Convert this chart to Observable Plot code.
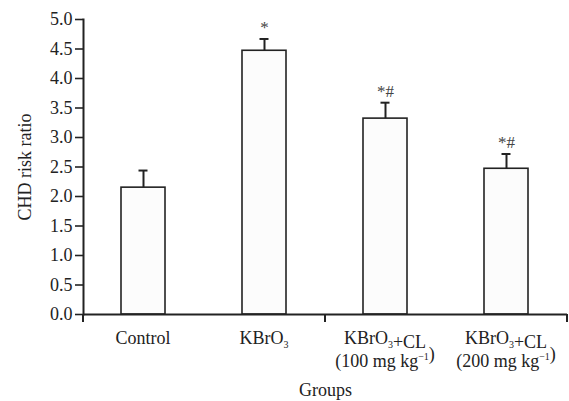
<!DOCTYPE html>
<html>
<head>
<meta charset="utf-8">
<script src="https://cdn.jsdelivr.net/npm/d3@7"></script>
<script src="https://cdn.jsdelivr.net/npm/@observablehq/plot@0.6"></script>
<style>
  html, body { margin: 0; padding: 0; background: #fff; }
</style>
</head>
<body>
<div id="chart"></div>
<script>
const groups = ["Control", "KBrO3", "KBrO3+CL 100", "KBrO3+CL 200"];
const means = [2.15, 4.47, 3.32, 2.47];
const errors = [0.29, 0.20, 0.27, 0.25];
const signif = ["", "*", "*#", "*#"];
const tickLabels = [
  ["Control"],
  ["KBrO_3"],
  ["KBrO_3+CL", "(100 mg kg^\u22121)"],
  ["KBrO_3+CL", "(200 mg kg^\u22121)"]
];
const yTicks = [0, 0.5, 1, 1.5, 2, 2.5, 3, 3.5, 4, 4.5, 5];
const yLabel = "CHD risk ratio";
const xLabel = "Groups";

const data = groups.map((g, i) => ({group: g, mean: means[i], err: errors[i], top: means[i] + errors[i], sig: signif[i]}));
const ink = "#222";
const font = "Liberation Serif, Times New Roman, serif";
const fs = 18;

const plot = Plot.plot({
  width: 569,
  height: 401,
  marginLeft: 83,
  marginRight: 2,
  marginTop: 19,
  marginBottom: 87,
  style: {fontFamily: font, fontSize: fs + "px", color: ink, background: "white", overflow: "visible"},
  x: {domain: groups, paddingInner: 0.636, paddingOuter: 0.318, axis: null},
  y: {domain: [0, 5], axis: null},
  marks: [
    Plot.axisY({ticks: yTicks, tickFormat: d3.format(".1f"), tickSize: 8, tickPadding: 3, strokeWidth: 1.6, label: null, fontSize: fs}),
    Plot.barY(data, {x: "group", y: "mean", fill: "#fcfcfc", stroke: ink, strokeWidth: 1.6}),
    Plot.ruleX(data, {x: "group", y1: "mean", y2: "top", stroke: ink, strokeWidth: 2}),
    Plot.tickY(data, {x: "group", y: "top", stroke: ink, strokeWidth: 2, insetLeft: 17.5, insetRight: 17.5}),
    Plot.text(data, {x: "group", y: "top", text: "sig", lineAnchor: "bottom", dy: -6, fill: "#444", fontSize: 17}),
    Plot.ruleY([0], {stroke: ink, strokeWidth: 2}),
    Plot.frame({anchor: "left", stroke: ink, strokeWidth: 2}),
    Plot.text([yLabel], {frameAnchor: "left", rotate: -90, dx: -58.5, textAnchor: "middle", lineAnchor: "middle", fontSize: fs, fill: ink}),
    Plot.text([xLabel], {frameAnchor: "bottom", dy: 76, lineAnchor: "middle", textAnchor: "middle", fontSize: fs, fill: ink})
  ]
});

document.getElementById("chart").appendChild(plot);

// x-axis ticks and multi-line labels with sub/superscripts, positioned via Plot's scales
const sx = plot.scale("x");
const sy = plot.scale("y");
const y0 = sy.apply(0);
const [r0, r1] = sx.range;
const bw = sx.bandwidth;
const svg = d3.select(plot);
const g = svg.append("g").attr("stroke", ink).attr("stroke-width", 2);
[r0, (r0 + r1) / 2, r1].forEach(xp => {
  g.append("line").attr("x1", xp).attr("x2", xp).attr("y1", y0).attr("y2", y0 + 8);
});

function addRichText(sel, str) {
  const parts = str.split(/(_\d+|\^[\u2212\-]?\d+)/).filter(s => s.length);
  parts.forEach(p => {
    if (p[0] === "_") {
      sel.append("tspan").attr("font-size", "10px").attr("dy", "4").text(p.slice(1));
      sel.append("tspan").attr("dy", "-4").text("");
    } else if (p[0] === "^") {
      sel.append("tspan").attr("font-size", "10px").attr("dy", "-7").text(p.slice(1));
      sel.append("tspan").attr("dy", "7").text("");
    } else {
      sel.append("tspan").text(p);
    }
  });
}

const lg = svg.append("g").attr("fill", ink).attr("font-family", font).attr("font-size", fs).attr("text-anchor", "middle");
groups.forEach((grp, i) => {
  const cx = sx.apply(grp) + bw / 2;
  tickLabels[i].forEach((line, j) => {
    const t = lg.append("text").attr("x", cx).attr("y", y0 + 24 + j * 23).attr("dy", "0.32em");
    addRichText(t, line);
  });
});
</script>
</body>
</html>
